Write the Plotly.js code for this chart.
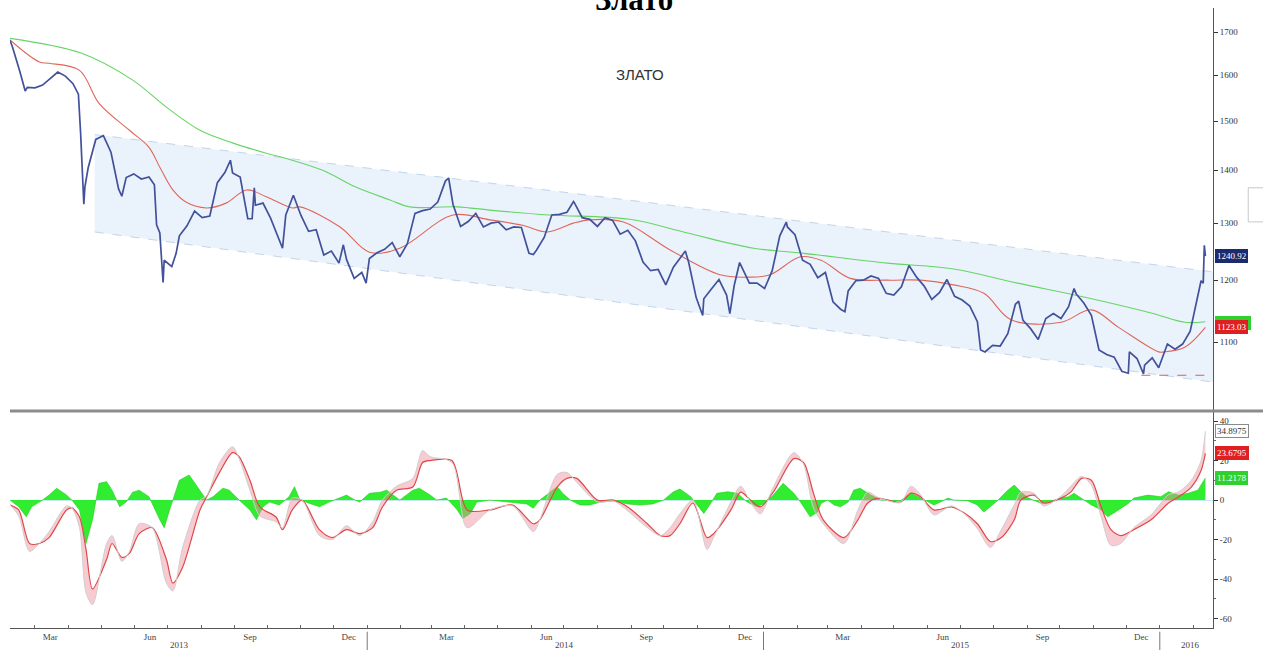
<!DOCTYPE html>
<html><head><meta charset="utf-8">
<script src="https://cdn.plot.ly/plotly-3.0.1.min.js"></script>
<style>html,body{margin:0;padding:0;background:#fff}#chart{width:1263px;height:650px}</style>
</head><body><div id="chart"></div>
<script>
const priceDates = ['2013-02-06','2013-02-08','2013-02-15','2013-02-20','2013-02-22','2013-03-01','2013-03-08','2013-03-15','2013-03-22','2013-03-29','2013-04-05','2013-04-10','2013-04-12','2013-04-15','2013-04-16','2013-04-19','2013-04-26','2013-05-03','2013-05-10','2013-05-17','2013-05-20','2013-05-24','2013-05-31','2013-06-07','2013-06-14','2013-06-19','2013-06-21','2013-06-24','2013-06-26','2013-06-27','2013-06-28','2013-07-05','2013-07-09','2013-07-12','2013-07-19','2013-07-26','2013-08-02','2013-08-09','2013-08-16','2013-08-23','2013-08-28','2013-08-30','2013-09-06','2013-09-13','2013-09-17','2013-09-19','2013-09-20','2013-09-27','2013-10-04','2013-10-11','2013-10-15','2013-10-18','2013-10-25','2013-11-01','2013-11-08','2013-11-15','2013-11-22','2013-11-29','2013-12-06','2013-12-10','2013-12-13','2013-12-20','2013-12-27','2013-12-31','2014-01-03','2014-01-10','2014-01-17','2014-01-24','2014-01-31','2014-02-07','2014-02-14','2014-02-21','2014-02-28','2014-03-07','2014-03-14','2014-03-17','2014-03-21','2014-03-28','2014-04-04','2014-04-11','2014-04-18','2014-04-25','2014-05-02','2014-05-09','2014-05-16','2014-05-23','2014-05-30','2014-06-03','2014-06-06','2014-06-13','2014-06-20','2014-06-27','2014-07-04','2014-07-10','2014-07-11','2014-07-18','2014-07-25','2014-08-01','2014-08-08','2014-08-15','2014-08-22','2014-08-29','2014-09-05','2014-09-12','2014-09-19','2014-09-26','2014-10-03','2014-10-10','2014-10-17','2014-10-21','2014-10-24','2014-10-31','2014-11-06','2014-11-07','2014-11-14','2014-11-21','2014-11-28','2014-12-01','2014-12-05','2014-12-10','2014-12-12','2014-12-19','2014-12-26','2015-01-02','2015-01-09','2015-01-16','2015-01-22','2015-01-23','2015-01-30','2015-02-06','2015-02-13','2015-02-20','2015-02-27','2015-03-06','2015-03-13','2015-03-17','2015-03-20','2015-03-27','2015-04-03','2015-04-10','2015-04-17','2015-04-24','2015-05-01','2015-05-08','2015-05-15','2015-05-22','2015-05-29','2015-06-05','2015-06-12','2015-06-19','2015-06-26','2015-07-03','2015-07-10','2015-07-17','2015-07-20','2015-07-24','2015-07-31','2015-08-07','2015-08-14','2015-08-21','2015-08-24','2015-08-28','2015-09-04','2015-09-11','2015-09-18','2015-09-25','2015-10-02','2015-10-09','2015-10-14','2015-10-16','2015-10-23','2015-10-30','2015-11-06','2015-11-13','2015-11-20','2015-11-27','2015-12-03','2015-12-04','2015-12-11','2015-12-17','2015-12-18','2015-12-25','2015-12-31','2016-01-08','2016-01-15','2016-01-22','2016-01-29','2016-02-05','2016-02-08','2016-02-10','2016-02-11','2016-02-12'];
const priceValues = [1680,1667,1609,1565,1573,1572,1578,1592,1607,1598,1581,1558,1477,1335,1368,1405,1462,1470,1436,1364,1350,1386,1393,1383,1387,1372,1297,1282,1230,1196,1234,1223,1246,1277,1295,1322,1310,1313,1376,1396,1420,1395,1387,1308,1308,1366,1333,1337,1309,1272,1255,1315,1352,1314,1285,1288,1243,1250,1229,1261,1235,1203,1213,1195,1237,1247,1253,1265,1240,1263,1318,1323,1326,1339,1379,1385,1335,1294,1303,1318,1293,1300,1302,1288,1293,1292,1246,1244,1252,1274,1315,1316,1320,1340,1337,1310,1307,1294,1310,1305,1280,1287,1268,1231,1216,1218,1192,1222,1239,1250,1231,1171,1142,1169,1185,1201,1175,1145,1191,1230,1222,1195,1195,1186,1216,1277,1302,1293,1279,1234,1227,1204,1213,1164,1152,1148,1182,1199,1200,1207,1203,1178,1175,1189,1225,1205,1190,1168,1179,1201,1173,1167,1157,1132,1088,1085,1095,1094,1113,1160,1165,1134,1121,1104,1137,1145,1137,1156,1186,1177,1162,1142,1088,1081,1077,1056,1053,1085,1075,1052,1065,1076,1061,1097,1089,1097,1117,1173,1199,1195,1260,1241];

const ma50Dates = ['2013-02-06','2013-03-05','2013-03-14','2013-04-11','2013-04-29','2013-05-27','2013-06-14','2013-06-24','2013-07-06','2013-07-18','2013-08-06','2013-08-24','2013-09-12','2013-09-30','2013-10-24','2013-10-31','2013-12-07','2014-01-03','2014-01-31','2014-03-21','2014-04-24','2014-05-24','2014-06-16','2014-07-10','2014-07-25','2014-08-25','2014-10-07','2014-11-22','2014-12-17','2015-01-07','2015-02-04','2015-02-23','2015-03-22','2015-04-25','2015-05-26','2015-06-25','2015-07-23','2015-08-17','2015-10-02','2015-10-30','2015-11-24','2015-12-31','2016-01-05','2016-01-24','2016-02-12'];
const ma50Values = [1681,1630,1627,1611,1538,1481,1446,1406,1362,1339,1328,1337,1362,1349,1328,1330,1293,1248,1255,1315,1306,1296,1284,1300,1306,1302,1252,1209,1205,1209,1240,1234,1203,1200,1200,1192,1178,1135,1131,1151,1123,1085,1085,1092,1123];

const ma200Dates = ['2013-02-06','2013-04-13','2013-05-30','2013-06-30','2013-07-31','2013-08-30','2013-09-30','2013-10-21','2013-11-21','2013-12-22','2014-01-22','2014-02-09','2014-03-25','2014-04-24','2014-06-18','2014-08-31','2014-10-23','2014-12-23','2015-02-07','2015-04-25','2015-06-25','2015-08-23','2015-10-23','2015-12-24','2016-01-24','2016-02-12'];
const ma200Values = [1685,1650,1589,1530,1481,1455,1434,1422,1400,1367,1343,1330,1330,1324,1315,1307,1282,1255,1246,1229,1219,1195,1172,1146,1131,1132];

const channelDates = ['2013-04-25','2016-02-19'];
const channelUpper = [1472,1214];
const channelLower = [1284,1040];
const supportDates = ['2015-12-15','2016-02-19'];
const supportValues = [1050,1050];

const oscDates = ['2013-02-06','2013-02-14','2013-02-24','2013-03-05','2013-03-14','2013-03-30','2013-04-04','2013-04-11','2013-04-17','2013-04-23','2013-05-06','2013-05-11','2013-05-20','2013-05-27','2013-06-05','2013-06-17','2013-06-30','2013-07-06','2013-07-15','2013-07-31','2013-08-06','2013-08-18','2013-08-30','2013-09-05','2013-09-15','2013-09-24','2013-10-09','2013-10-15','2013-10-24','2013-11-02','2013-11-18','2013-11-30','2013-12-13','2013-12-25','2014-01-06','2014-01-15','2014-01-28','2014-02-12','2014-02-21','2014-02-28','2014-03-20','2014-04-03','2014-04-24','2014-05-15','2014-06-03','2014-06-09','2014-06-25','2014-07-04','2014-07-13','2014-08-01','2014-08-16','2014-08-29','2014-09-16','2014-09-28','2014-10-07','2014-10-16','2014-10-28','2014-11-10','2014-11-16','2014-12-02','2014-12-11','2014-12-20','2014-12-29','2015-01-10','2015-01-29','2015-02-07','2015-02-16','2015-02-25','2015-03-16','2015-03-29','2015-04-07','2015-04-16','2015-05-07','2015-05-17','2015-05-26','2015-06-07','2015-06-23','2015-07-05','2015-07-17','2015-07-29','2015-08-08','2015-08-20','2015-08-26','2015-09-07','2015-09-16','2015-10-02','2015-10-11','2015-10-21','2015-10-30','2015-11-08','2015-11-17','2015-11-26','2015-12-08','2015-12-24','2016-01-09','2016-01-18','2016-01-30','2016-02-08','2016-02-12'];
const oscRed = [-2.5,-5,-22,-22,-19,-5,-4,-8.6,-25,-45,-30,-22,-29,-27,-17,-14,-30,-42,-34,-5,1.5,14,24,22,10,-3.5,-8.6,-15,-5,0,-15,-19,-15,-17,-14,-3.5,5,6.6,19,20,20,-5,-5,-2.5,-12,-10,6.6,11,11,0,0,-3.5,-12,-18,-18,-12,-1.5,-19,-17,-5,4,0,-3.5,4,21,19,3.5,-10,-19,-10,-1.5,1,-1,3.5,1.5,-5,-3.5,-6.6,-12,-21,-19,-10,0,2.5,-1.5,1,4,11,10,-3.5,-15,-18,-15,-10,-1.5,1.5,6.6,15,23.7];
const oscGrey = [-2.5,-8,-26,-22,-16,-3,-4,-14,-47,-53,-22,-18,-31,-26,-12,-14,-42,-46,-24,0,2,19,27,21,5,-8,-11,-14,1,0,-18,-20,-13,-18,-11,0,7,11,25,22,19,-14,-5,-3,-16,-10,13,14,9,-1,-0.5,-5.5,-14,-18,-14,-7,0,-25,-19,-1,7,-1,-7,6.5,24,18,-4,-12,-22,-5,4,1.5,-1.3,7,2.5,-7.5,-3,-7,-14.5,-24,-15,-2.4,4,3.5,-3,2,7,12,7.5,-8.5,-23,-22,-14,-7.5,2.7,4,10,20,34.9];

const histDates = ['2013-02-06','2013-02-14','2013-02-21','2013-02-26','2013-03-08','2013-03-14','2013-03-21','2013-03-30','2013-04-04','2013-04-11','2013-04-17','2013-04-23','2013-04-29','2013-05-06','2013-05-11','2013-05-18','2013-05-24','2013-05-30','2013-06-05','2013-06-14','2013-06-24','2013-06-28','2013-07-03','2013-07-12','2013-07-21','2013-07-31','2013-08-06','2013-08-12','2013-08-21','2013-08-27','2013-09-05','2013-09-15','2013-09-21','2013-09-27','2013-10-03','2013-10-12','2013-10-21','2013-10-26','2013-10-31','2013-11-09','2013-11-18','2013-11-27','2013-12-13','2013-12-19','2013-12-25','2014-01-03','2014-01-13','2014-01-19','2014-01-25','2014-01-31','2014-02-12','2014-02-18','2014-02-28','2014-03-06','2014-03-15','2014-03-25','2014-03-30','2014-04-06','2014-04-12','2014-04-24','2014-05-28','2014-06-03','2014-06-09','2014-06-18','2014-06-25','2014-06-30','2014-07-07','2014-07-16','2014-07-25','2014-08-04','2014-08-16','2014-08-29','2014-09-09','2014-09-21','2014-10-01','2014-10-10','2014-10-16','2014-10-26','2014-11-01','2014-11-07','2014-11-13','2014-11-19','2014-11-29','2014-12-08','2014-12-17','2014-12-26','2015-01-01','2015-01-10','2015-01-19','2015-01-29','2015-02-04','2015-02-13','2015-02-20','2015-02-23','2015-03-01','2015-03-07','2015-03-13','2015-03-20','2015-03-25','2015-03-31','2015-04-10','2015-04-19','2015-05-07','2015-05-17','2015-05-26','2015-06-07','2015-06-13','2015-06-20','2015-06-25','2015-07-08','2015-07-17','2015-07-23','2015-07-29','2015-08-05','2015-08-14','2015-08-20','2015-08-26','2015-09-02','2015-09-14','2015-09-20','2015-10-02','2015-10-09','2015-10-14','2015-10-21','2015-10-30','2015-11-08','2015-11-14','2015-11-24','2015-12-03','2015-12-08','2015-12-21','2016-01-02','2016-01-09','2016-01-18','2016-01-27','2016-02-05','2016-02-12'];
const histValues = [0,-3.4,-8.5,-3.4,0,2.5,6,2.5,0,-5,-22,-10,8.5,9.3,5,-3.4,-1,4,5,1.7,-10,-14,-5,10,12.7,5,0,1.7,6,5,0,-5,-10,-3.4,-1,-2.5,1.7,6.8,0,-1.7,-3.4,-1,2.5,0.5,-1,3.4,4,5,2.5,0,5,6,2.5,0,1,-5,-9.3,-6.8,-1,0,-2,-4.2,0,4,6.8,3.4,0,-2.5,-2.5,-1,-0.5,-2,-2.5,-2,0,4.2,5.6,1.7,-2.5,-6.8,-2,3.4,4.2,3.4,-1,-3.4,-2,2.5,8.5,3.4,-1,-8.5,-6,-1.7,0,-2.5,-3.4,-1,5,6,2.5,0,-0.3,3.4,1,-2.5,-1,1,0,-0.3,-2.5,-6,-3.4,0,5,7.6,4.2,1,-1.7,-1,1,1.7,3.4,1,-2.5,-5,-8.5,-5,-1.7,1,2.5,1.7,4.2,2.5,3.4,5,11.2];

const priceTicks = [1100,1200,1300,1400,1500,1600,1700];
const oscTicks = [-60,-40,-20,0,20,40];
const monthTickDates = ['2013-03-15','2013-06-15','2013-09-15','2013-12-15','2014-03-15','2014-06-15','2014-09-15','2014-12-15','2015-03-15','2015-06-15','2015-09-15','2015-12-15'];
const monthTickText = ['Mar','Jun','Sep','Dec','Mar','Jun','Sep','Dec','Mar','Jun','Sep','Dec'];
const yearLabelDates = ['2013-07-12','2014-07-02','2015-07-01','2016-01-29'];
const yearLabelText = ['2013','2014','2015','2016'];
const yearSepDates = ['2014-01-01','2015-01-01','2016-01-01'];
const blankTag = '\u2007\u2007\u2007\u2007\u2007\u2007\u2007';
const priceTags = [{v:1130, t:blankTag, bg:'#2fd12f', fg:'#ffffff'},{v:1123.03, t:'1123.03', bg:'#e02020', fg:'#ffffff'},{v:1240.92, t:'1240.92', bg:'#1c2a6e', fg:'#ffffff'}];
const oscTags = [{v:34.8975, t:'34.8975', bg:'#ffffff', fg:'#333', bc:'#8a8a8a'},{v:23.6795, t:'23.6795', bg:'#e02020', fg:'#ffffff', bc:'#e02020'},{v:11.2178, t:'11.2178', bg:'#2fd12f', fg:'#ffffff', bc:'#2fd12f'}];

const serif = 'Liberation Serif, Times New Roman, serif';

const traces = [
  {x: channelDates, y: channelLower, xaxis:'x', yaxis:'y', mode:'lines', line:{color:'#c3d5e8', width:1, dash:'dash'}, hoverinfo:'skip'},
  {x: channelDates, y: channelUpper, xaxis:'x', yaxis:'y', mode:'lines', fill:'tonexty', fillcolor:'rgba(232,242,252,0.9)', line:{color:'#c3d5e8', width:1, dash:'dash'}, hoverinfo:'skip'},
  {x: supportDates, y: supportValues, xaxis:'x', yaxis:'y', mode:'lines', line:{color:'#d9605a', width:1, dash:'dash'}},
  {x: ma200Dates, y: ma200Values, xaxis:'x', yaxis:'y', mode:'lines', line:{color:'#66d466', width:1.1, shape:'spline', smoothing:1}},
  {x: ma50Dates, y: ma50Values, xaxis:'x', yaxis:'y', mode:'lines', line:{color:'#e0665a', width:1.1, shape:'spline', smoothing:1}},
  {x: priceDates, y: priceValues, xaxis:'x', yaxis:'y', mode:'lines', line:{color:'#42519a', width:1.7}},
  {x: histDates, y: histValues, xaxis:'x', yaxis:'y2', mode:'lines', fill:'tozeroy', fillcolor:'rgba(25,235,25,0.9)', line:{color:'#22cc22', width:0.6}},
  {x: oscDates, y: oscRed, xaxis:'x', yaxis:'y2', mode:'lines', line:{color:'#e04848', width:1.2, shape:'spline', smoothing:0.8}},
  {x: oscDates, y: oscGrey, xaxis:'x', yaxis:'y2', mode:'lines', fill:'tonexty', fillcolor:'rgba(240,140,155,0.45)', line:{color:'#cfcfcf', width:1, shape:'spline', smoothing:0.8}}
];

const annotations = [
  {text:'<b>Злато</b>', xref:'paper', yref:'paper', x:0.519, y:1.013, xanchor:'center', yanchor:'middle', showarrow:false, font:{family:serif, size:31, color:'#000'}},
  {text:'ЗЛАТО', xref:'paper', yref:'paper', x:0.5237, y:0.892, xanchor:'center', yanchor:'middle', showarrow:false, font:{family:'Liberation Sans Narrow, Liberation Sans, Arial, sans-serif', size:15, color:'#333'}}
];
yearLabelDates.forEach((d,i)=>annotations.push({text:yearLabelText[i], xref:'x', yref:'paper', x:d, y:-0.028, xanchor:'center', yanchor:'middle', showarrow:false, font:{family:serif, size:9, color:'#444'}}));
priceTags.forEach(t=>annotations.push({text:t.t, xref:'paper', yref:'y', x:1.002, y:Math.log10(t.v), xanchor:'left', yanchor:'middle', showarrow:false, bgcolor:t.bg, bordercolor:t.bg, borderpad:1, font:{family:serif, size:9, color:t.fg}}));
oscTags.forEach(t=>annotations.push({text:t.t, xref:'paper', yref:'y2', x:1.002, y:t.v, xanchor:'left', yanchor:'middle', showarrow:false, bgcolor:t.bg, bordercolor:t.bc, borderpad:1, font:{family:serif, size:9, color:t.fg}}));

const shapes = [
  {type:'line', xref:'paper', yref:'paper', x0:0, x1:1.0416, y0:0.35, y1:0.35, line:{color:'#8c8c8c', width:3}},
  {type:'rect', xref:'paper', yref:'paper', x0:1.0293, x1:1.045, y0:0.655, y1:0.71, line:{color:'#c8c8c8', width:1}}
];
yearSepDates.forEach(d=>shapes.push({type:'line', xref:'x', yref:'paper', x0:d, x1:d, y0:-0.006, y1:-0.04, line:{color:'#777', width:1}}));

const layout = {
  width:1263, height:650, margin:{l:10, r:50, t:8, b:22},
  paper_bgcolor:'#fff', plot_bgcolor:'#fff', showlegend:false,
  xaxis:{type:'date', anchor:'y2', range:['2013-02-06','2016-02-19'], showgrid:false, zeroline:false,
    showline:true, linecolor:'#555', linewidth:1,
    tickmode:'array', tickvals:monthTickDates, ticktext:monthTickText, ticks:'', ticklen:0,
    tickfont:{family:serif, size:9, color:'#444'},
    minor:{ticks:'inside', ticklen:3, tickcolor:'#666', tickmode:'linear', tick0:'2013-01-01', dtick:'M1', showgrid:false}},
  yaxis:{type:'log', domain:[0.3516,1], anchor:'x', side:'right', range:[3.0,3.2451], showgrid:false, zeroline:false,
    showline:true, linecolor:'#555', linewidth:1, ticks:'outside', ticklen:4, tickcolor:'#333',
    tickmode:'array', tickvals:priceTicks, ticktext:priceTicks.map(String), tickfont:{family:serif, size:9, color:'#333'}},
  yaxis2:{domain:[0,0.3484], anchor:'x', side:'right', range:[-64.8,44.6], showgrid:false,
    zeroline:true, zerolinecolor:'#c3e6f2', zerolinewidth:1,
    showline:true, linecolor:'#555', linewidth:1, ticks:'outside', ticklen:4, tickcolor:'#333',
    tickmode:'array', tickvals:oscTicks, ticktext:oscTicks.map(String), tickfont:{family:serif, size:9, color:'#333'},
    minor:{ticks:'outside', ticklen:2, tickcolor:'#666', tickmode:'linear', tick0:0, dtick:10}},
  annotations: annotations, shapes: shapes
};
Plotly.newPlot('chart', traces, layout, {displayModeBar:false, staticPlot:true});
</script></body></html>
